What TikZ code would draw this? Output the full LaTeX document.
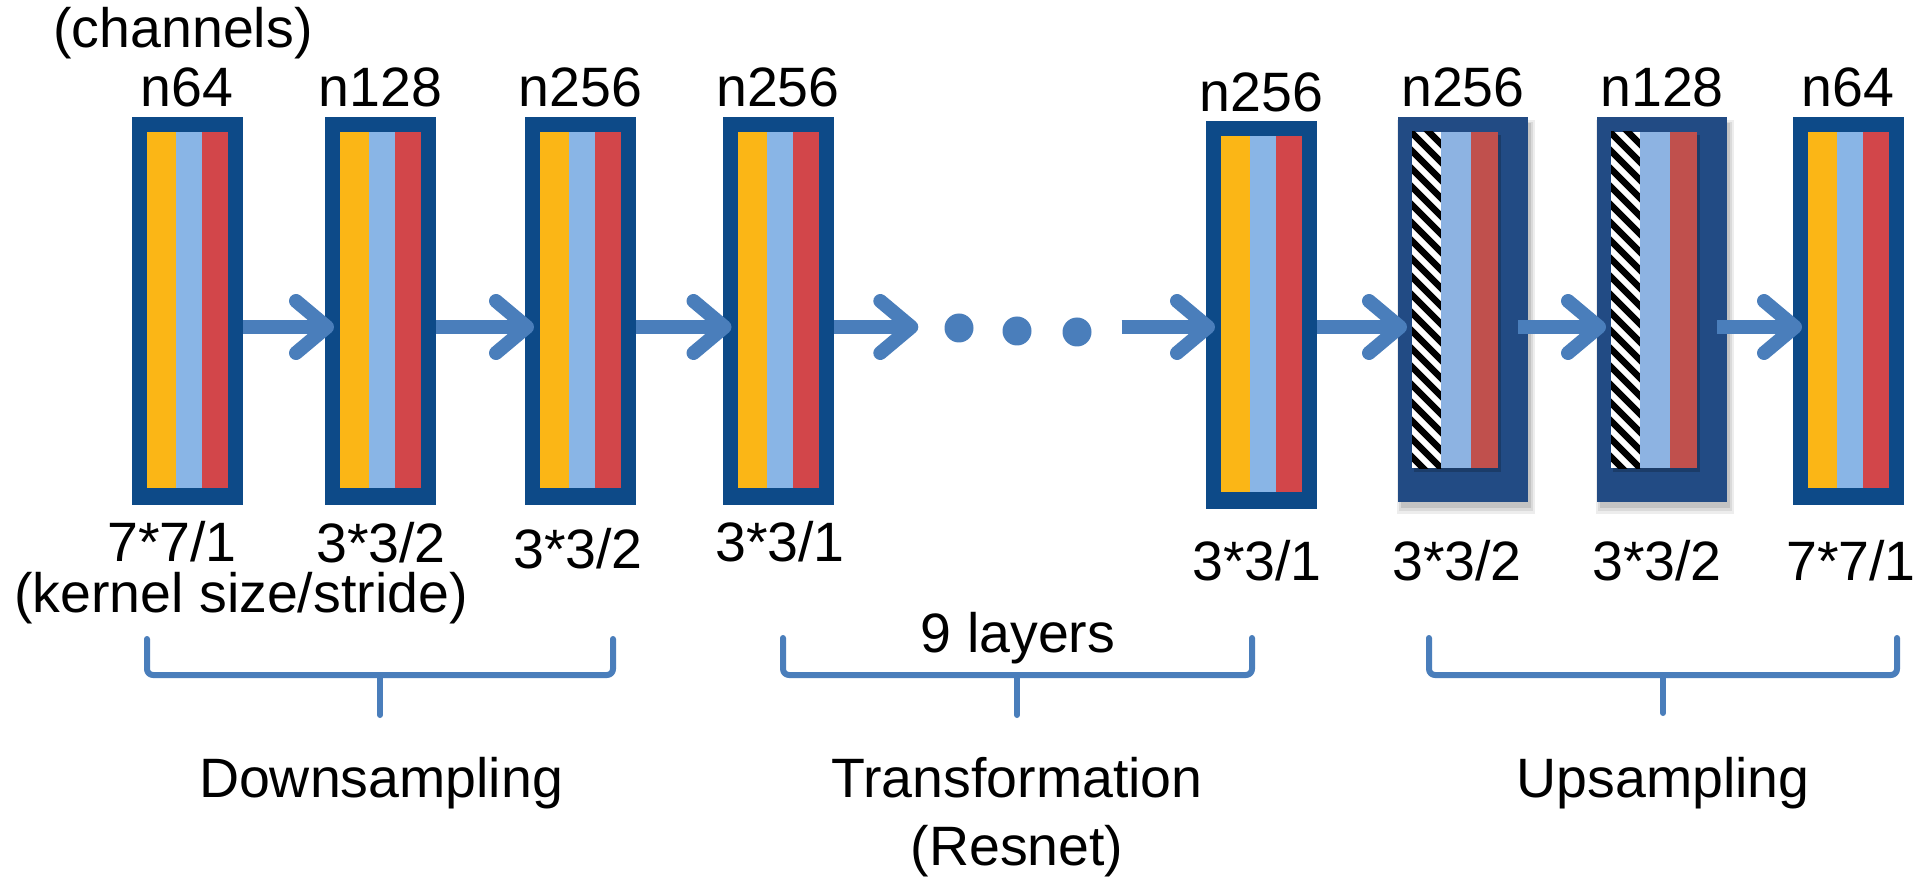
\documentclass[tikz,border=0pt]{standalone}
\usepackage{fontspec}
\setmainfont{Liberation Sans}
\usetikzlibrary{arrows.meta,calc}
\definecolor{bord}{HTML}{0D4A88}
\definecolor{hbord}{HTML}{224B84}
\definecolor{ylw}{HTML}{FBB616}
\definecolor{lblue}{HTML}{89B5E6}
\definecolor{rred}{HTML}{D2464A}
\definecolor{hred}{HTML}{C0504D}
\definecolor{hblue}{HTML}{8DB3E2}
\definecolor{arrc}{HTML}{4A7EBB}
\tikzset{
  lbl/.style={font=\fontsize{55.5}{60}\selectfont, inner sep=0pt, anchor=base},
  regbox/.style={fill=bord, draw=none, minimum width=111pt, minimum height=388pt, inner sep=0pt, anchor=north west},
  hatbox/.style={fill=hbord, draw=none, minimum width=130pt, minimum height=385pt, inner sep=0pt, anchor=north west},
  arr/.style={draw=arrc, line width=14pt, -{Straight Barb[length=31pt,width=52pt,round]}},
  brace/.style={draw=arrc, line width=6pt, line cap=round, line join=round, rounded corners=6pt},
  dotc/.style={circle, fill=arrc, minimum size=29pt, inner sep=0pt},
}
\newcommand\regblock[3]{%
  \node[regbox] (#1) at (#2,#3) {};
  \fill[ylw]   (#2+15,#3+15) rectangle (#2+44,#3+371);
  \fill[lblue] (#2+44,#3+15) rectangle (#2+70,#3+371);
  \fill[rred]  (#2+70,#3+15) rectangle (#2+96,#3+371);
}
\newcommand\hatblock[3]{%
  \fill[black, opacity=0.07] (#2-1,#3+3) rectangle (#2+137,#3+397);
  \fill[black, opacity=0.08] (#2+1,#3+5) rectangle (#2+135,#3+394);
  \fill[black, opacity=0.10] (#2+3,#3+6) rectangle (#2+133,#3+391);
  \node[hatbox] (#1) at (#2,#3) {};
  \fill[black, opacity=0.2] (#2+16,#3+18) rectangle (#2+103,#3+355);
  \begin{scope}
    \clip (#2+14,#3+15) rectangle (#2+43,#3+351);
    \fill[white] (#2+14,#3+15) rectangle (#2+43,#3+351);
    \foreach \k in {-45,-27,...,360}
      \draw[black, line width=6.4pt] (#2+4,#3+15+\k) -- (#2+54,#3+65+\k);
  \end{scope}
  \fill[hblue] (#2+43,#3+15) rectangle (#2+73,#3+351);
  \fill[hred]  (#2+73,#3+15) rectangle (#2+100,#3+351);
}
\begin{document}
\begin{tikzpicture}[x=1pt,y=-1pt]
\useasboundingbox (0,0) rectangle (1920,882);
\fill[white] (0,0) rectangle (1920,882);
\coordinate (ay) at (0,327);

% blocks
\regblock{b1}{131.5}{117}
\regblock{b2}{325}{117}
\regblock{b3}{525}{117}
\regblock{b4}{722.5}{117}
\regblock{b5}{1206}{121}
\hatblock{b6}{1398}{117}
\hatblock{b7}{1597}{117}
\regblock{b8}{1793}{117}

% dots
\node[dotc] (d1) at (959,328) {};
\node[dotc] (d2) at (1017,331) {};
\node[dotc] (d3) at (1077,332) {};

% arrows
\draw[arr] (b1.east |- ay) -- ($(b2.west |- ay)+(9,0)$);
\draw[arr] (b2.east |- ay) -- ($(b3.west |- ay)+(9,0)$);
\draw[arr] (b3.east |- ay) -- ($(b4.west |- ay)+(9,0)$);
\draw[arr] (b4.east |- ay) -- ($(d1.west |- ay)+(-26,0)$);
\draw[arr] ($(d3.east |- ay)+(30,0)$) -- ($(b5.west |- ay)+(9,0)$);
\draw[arr] (b5.east |- ay) -- ($(b6.west |- ay)+(9,0)$);
\draw[arr] ($(b6.east |- ay)+(-10,0)$) -- ($(b7.west |- ay)+(9,0)$);
\draw[arr] ($(b7.east |- ay)+(-10,0)$) -- ($(b8.west |- ay)+(9,0)$);

% top labels
\node[lbl] (tch) at (183,48) {(channels)};
\node[lbl] (n1) at (187,107) {n64};
\node[lbl] (n2) at (380.5,107) {n128};
\node[lbl] (n3) at (580.5,107) {n256};
\node[lbl] (n4) at (778,107) {n256};
\node[lbl] (n5) at (1261.5,112) {n256};
\node[lbl] (n6) at (1463,107) {n256};
\node[lbl] (n7) at (1662,107) {n128};
\node[lbl] (n8) at (1848,107) {n64};

% bottom labels
\node[lbl] (k1) at (172,561) {7*7/1};
\node[lbl] (k2) at (381,562) {3*3/2};
\node[lbl] (k3) at (578,568) {3*3/2};
\node[lbl] (k4) at (780,561) {3*3/1};
\node[lbl] (k5) at (1257,580) {3*3/1};
\node[lbl] (k6) at (1457,580) {3*3/2};
\node[lbl] (k7) at (1657,580) {3*3/2};
\node[lbl] (k8) at (1851,580) {7*7/1};
\node[lbl] (ks) at (241,612) {(kernel size/stride)};

% brackets
\draw[brace] (147,639) -- (147,675) -- (613,675) -- (613,639);
\draw[brace] (380,675) -- (380,715);
\draw[brace] (783,638) -- (783,675) -- (1252,675) -- (1252,638);
\draw[brace] (1017,675) -- (1017,715);
\draw[brace] (1429,638) -- (1429,675) -- (1897,675) -- (1897,638);
\draw[brace] (1663,675) -- (1663,713);

\node[lbl] (nine) at (1018,652) {9 layers};
\node[lbl] (down) at (381,797) {Downsampling};
\node[lbl] (trans) at (1017,797) {Transformation};
\node[lbl] (res) at (1017,865) {(Resnet)};
\node[lbl] (up) at (1663,797) {Upsampling};
\end{tikzpicture}
\end{document}
